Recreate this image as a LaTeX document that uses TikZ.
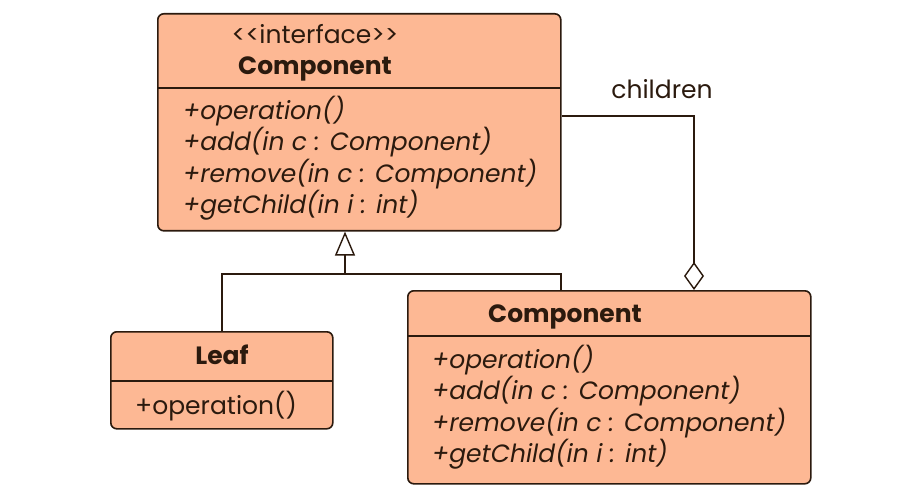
\documentclass[tikz,border=0pt]{standalone}
\usepackage{fontspec}
\setmainfont{Poppins}[Ligatures=TeXOff]
\usetikzlibrary{arrows.meta}
\definecolor{boxfill}{HTML}{FDB894}
\definecolor{ink}{HTML}{2B1A0E}
\begin{document}
\begin{tikzpicture}
			[x=1pt,y=-1pt,
			every node/.style={text=ink,font=\fontsize{25}{31}\selectfont},
			classbox/.style={draw=ink,line width=1.6pt,fill=boxfill,rounded corners=6pt,inner sep=0pt,anchor=north west},
			member/.style={anchor=base west,inner sep=0pt,font=\fontsize{25}{31}\selectfont\itshape},
			title/.style={anchor=base,inner sep=0pt,font=\fontsize{25}{31}\selectfont\bfseries},
			link/.style={draw=ink,line width=1.4pt}]
			\useasboundingbox (0,0) rectangle (898,500);
			% interface box
			\node[classbox,minimum width=403pt,minimum height=217pt] (iface) at (157,13) {};
			\draw[link] (157,88) -- (560,88);
			\node[anchor=base,inner sep=0pt] (stereo) at (315,44) {<<interface>>};
			\node[title] (ifacename) at (315,75) {Component};
			\node[member] (op1) at (183,120) {+operation()};
			\node[member] (add1) at (183,151) {+add(in c : Component)};
			\node[member] (rem1) at (183,183) {+remove(in c : Component)};
			\node[member] (get1) at (183,214) {+getChild(in i : int)};
			% leaf box
			\node[classbox,minimum width=222pt,minimum height=97pt] (leaf) at (110,331) {};
			\draw[link] (110,381) -- (332,381);
			\node[title] (leafname) at (222,364) {Leaf};
			\node[anchor=base west,inner sep=0pt] (op2) at (135,414) {+operation()};
			% composite box
			\node[classbox,minimum width=403pt,minimum height=193pt] (comp) at (407,290) {};
			\draw[link] (407,336) -- (810,336);
			\node[title] (compname) at (565,323) {Component};
			\node[member] (op3) at (432,368) {+operation()};
			\node[member] (add3) at (432,399) {+add(in c : Component)};
			\node[member] (rem3) at (432,431) {+remove(in c : Component)};
			\node[member] (get3) at (432,462) {+getChild(in i : int)};
			% generalisation
			\coordinate (join) at (345,274);
			\draw[link] (leaf.north) |- (join) -| (comp.north -| 561,0);
			\draw[link,-{Triangle[open,length=24pt,width=20pt]}] (join) -- (iface.south -| join);
			% aggregation
			\coordinate (bend) at (694,116);
			\draw[link,{Diamond[open,length=28pt,width=20pt]}-] (comp.north -| bend) -- (bend) -- (iface.east |- bend);
			\node[anchor=base,inner sep=0pt] (children) at (662,99) {children};
		\end{tikzpicture}
\end{document}
